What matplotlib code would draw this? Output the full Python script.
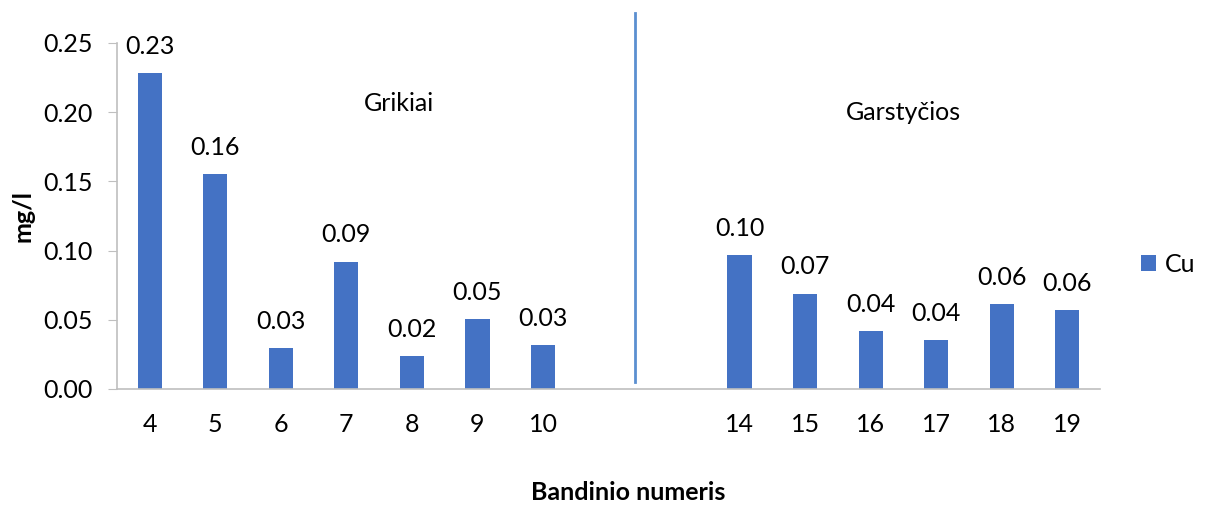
import numpy as np
import matplotlib
matplotlib.use("Agg")
import matplotlib.pyplot as plt
from matplotlib.lines import Line2D

# sample numbers, two blank slots between the groups
samples = ["4", "5", "6", "7", "8", "9", "10", "", "", "14", "15", "16", "17", "18", "19"]
cu = [0.228, 0.155, 0.0295, 0.092, 0.0238, 0.0507, 0.0317, np.nan, np.nan,
      0.097, 0.069, 0.0418, 0.0355, 0.0615, 0.057]
labels = ["0.23", "0.16", "0.03", "0.09", "0.02", "0.05", "0.03", "", "",
          "0.10", "0.07", "0.04", "0.04", "0.06", "0.06"]
yticks = [0.00, 0.05, 0.10, 0.15, 0.20, 0.25]

bar_color = "#4472C4"
axis_color = "#BFBFBF"
font = ["Lato", "DejaVu Sans"]
fs = 18

plt.rcParams['font.family'] = font

W, H = 1205, 505
fig = plt.figure(figsize=(W / 100, H / 100), dpi=100)
# plot area in pixels: x 117..1100, y 43..389
ax = fig.add_axes([117 / W, 1 - 389 / H, (1100 - 117) / W, (389 - 43) / H])

x = np.arange(len(samples))
heights = np.nan_to_num(cu)
bars = ax.bar(x, heights, width=0.37, color=bar_color, label="Cu")

for xi, h, lab in zip(x, heights, labels):
    if lab:
        ax.text(xi, h + 0.011, lab, ha="center", va="bottom", fontsize=fs)

ax.set_xlim(-0.5, len(samples) - 0.5)
ax.set_ylim(0, 0.25)
ax.set_xticks(x)
ax.set_xticklabels(samples, fontsize=fs)
ax.set_yticks(yticks)
ax.set_yticklabels(["%.2f" % v for v in yticks], fontsize=fs)
ax.tick_params(axis="x", length=0, pad=17)
ax.tick_params(axis="y", length=6.5, color=axis_color, pad=11)

for side in ["top", "right"]:
    ax.spines[side].set_visible(False)
ax.spines["left"].set_color(axis_color)
ax.spines["bottom"].set_color(axis_color)
ax.spines["left"].set_linewidth(1.2)
ax.spines["bottom"].set_linewidth(1.2)

# group labels
ax.text(3.8, 0.206, "Grikiai", ha="center", va="center", fontsize=fs)
ax.text(11.5, 0.200, "Garstyčios", ha="center", va="center", fontsize=fs)

# divider line drawn on the figure
fig.add_artist(Line2D([635 / W, 635 / W], [1 - 13 / H, 1 - 382 / H],
                      color="#5B8FD0", linewidth=2))

ax.set_ylabel("mg/l", fontsize=fs, fontweight="bold")
ax.yaxis.set_label_coords(-82 / (1100 - 117), 0.5)
fig.text(628 / W, 1 - 492 / H, "Bandinio numeris", ha="center", va="center",
         fontsize=fs, fontweight="bold")

leg = fig.legend(handles=[bars], labels=["Cu"], loc="center left",
                 bbox_to_anchor=(1141 / W, 1 - 264 / H), frameon=False,
                 fontsize=fs, handlelength=0.6, handleheight=0.6,
                 handletextpad=0.35, borderpad=0, borderaxespad=0)

fig.savefig("out.png", dpi=100)
